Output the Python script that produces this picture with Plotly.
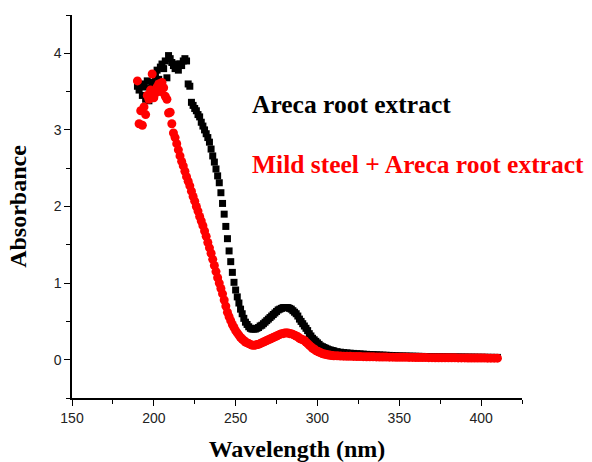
import plotly.graph_objects as go

# Wavelength (nm): 1 nm steps 190-310, 2 nm steps 312-410
wavelength = list(range(190, 311)) + list(range(312, 411, 2))

areca = [
    3.57, 3.52, 3.60, 3.45, 3.56, 3.40, 3.64, 3.38, 3.55, 3.62,   # 190-199
    3.48, 3.70, 3.78, 3.66, 3.82, 3.86, 3.80, 3.90, 3.68, 3.97,   # 200-209
    3.93, 3.88, 3.84, 3.80, 3.86, 3.78, 3.86, 3.84, 3.90, 3.93,   # 210-219
    3.90, 3.60, 3.57, 3.36, 3.32, 3.28, 3.25, 3.20, 3.17, 3.10,   # 220-229
    3.05, 3.00, 2.95, 2.90, 2.84, 2.75, 2.66, 2.58, 2.49, 2.40,   # 230-239
    2.31, 2.18, 2.04, 1.90, 1.74, 1.58, 1.42, 1.28, 1.14, 1.01,   # 240-249
    0.91, 0.82, 0.74, 0.66, 0.60, 0.54, 0.49, 0.46, 0.43, 0.41,   # 250-259
    0.40, 0.40, 0.40, 0.41, 0.42, 0.44, 0.45, 0.47, 0.49, 0.51,   # 260-269
    0.53, 0.55, 0.57, 0.59, 0.61, 0.63, 0.65, 0.66, 0.67, 0.68,   # 270-279
    0.68, 0.68, 0.68, 0.67, 0.66, 0.64, 0.62, 0.60, 0.57, 0.53,   # 280-289
    0.50, 0.47, 0.44, 0.41, 0.38, 0.34, 0.31, 0.28, 0.26, 0.24,   # 290-299
    0.22, 0.20, 0.18, 0.17, 0.16, 0.15, 0.14, 0.13, 0.125, 0.12,  # 300-309
    0.115,                                                        # 310
    0.105, 0.098, 0.093, 0.089, 0.085, 0.082, 0.079, 0.076, 0.073, 0.070,  # 312-330
    0.068, 0.066, 0.064, 0.062, 0.060, 0.058, 0.056, 0.054, 0.052, 0.050,  # 332-350
    0.049, 0.048, 0.047, 0.046, 0.045, 0.044, 0.043, 0.042, 0.041, 0.040,  # 352-370
    0.039, 0.039, 0.038, 0.038, 0.037, 0.037, 0.036, 0.036, 0.035, 0.035,  # 372-390
    0.034, 0.034, 0.033, 0.033, 0.032, 0.032, 0.031, 0.031, 0.030, 0.030,  # 392-410
]

mild_steel = [
    3.64, 3.08, 3.25, 3.06, 3.30, 3.20, 3.45, 3.40, 3.52, 3.73,   # 190-199
    3.42, 3.48, 3.56, 3.60, 3.50, 3.62, 3.55, 3.44, 3.40, 3.22,   # 200-209
    3.23, 3.08, 2.96, 2.90, 2.82, 2.74, 2.66, 2.59, 2.53, 2.46,   # 210-219
    2.39, 2.33, 2.27, 2.20, 2.13, 2.07, 2.00, 1.94, 1.87, 1.81,   # 220-229
    1.75, 1.68, 1.61, 1.53, 1.46, 1.39, 1.31, 1.23, 1.15, 1.07,   # 230-239
    1.00, 0.93, 0.86, 0.78, 0.70, 0.62, 0.56, 0.51, 0.46, 0.42,   # 240-249
    0.38, 0.35, 0.32, 0.29, 0.27, 0.25, 0.23, 0.22, 0.21, 0.20,   # 250-259
    0.19, 0.19, 0.19, 0.20, 0.20, 0.21, 0.22, 0.23, 0.24, 0.25,   # 260-269
    0.26, 0.27, 0.28, 0.29, 0.30, 0.31, 0.32, 0.33, 0.34, 0.34,   # 270-279
    0.35, 0.35, 0.35, 0.34, 0.34, 0.33, 0.32, 0.31, 0.30, 0.28,   # 280-289
    0.27, 0.26, 0.25, 0.23, 0.21, 0.19, 0.17, 0.15, 0.14, 0.12,   # 290-299
    0.11, 0.10, 0.09, 0.08, 0.075, 0.07, 0.065, 0.062, 0.058, 0.055,  # 300-309
    0.052,                                                        # 310
    0.050, 0.048, 0.046, 0.045, 0.044, 0.043, 0.042, 0.041, 0.040, 0.039,  # 312-330
    0.038, 0.037, 0.036, 0.035, 0.035, 0.034, 0.033, 0.033, 0.032, 0.032,  # 332-350
    0.031, 0.031, 0.030, 0.030, 0.029, 0.029, 0.028, 0.028, 0.027, 0.027,  # 352-370
    0.026, 0.026, 0.025, 0.025, 0.025, 0.024, 0.024, 0.023, 0.023, 0.023,  # 372-390
    0.022, 0.022, 0.022, 0.021, 0.021, 0.021, 0.020, 0.020, 0.020, 0.020,  # 392-410
]

x_ticks = [150, 200, 250, 300, 350, 400]
y_ticks = [0, 1, 2, 3, 4]

serif = "Liberation Serif, Times New Roman, serif"
sans = "Liberation Sans, Arial, sans-serif"

fig = go.Figure()
fig.add_trace(go.Scatter(
    x=wavelength, y=areca, mode="markers", name="Areca root extract",
    marker=dict(symbol="square", size=7, color="black", line=dict(width=0)),
))
fig.add_trace(go.Scatter(
    x=wavelength, y=mild_steel, mode="markers", name="Mild steel + Areca root extract",
    marker=dict(symbol="circle", size=9, color="#ff0000", line=dict(width=0)),
))

fig.add_annotation(
    text="<b>Areca root extract</b>", xref="x", yref="y", x=258.5, y=3.33,
    xanchor="left", yanchor="middle", showarrow=False,
    font=dict(family=serif, size=25.5, color="black"),
)
fig.add_annotation(
    text="<b>Mild steel + Areca root extract</b>", xref="x", yref="y", x=258.5, y=2.55,
    xanchor="left", yanchor="middle", showarrow=False,
    font=dict(family=serif, size=25.5, color="#ff0000"),
)

fig.update_layout(
    width=592, height=462,
    margin=dict(l=72, r=70, t=15, b=64),
    paper_bgcolor="white", plot_bgcolor="white",
    showlegend=False,
    xaxis=dict(
        range=[150, 425], tickvals=x_ticks, ticks="outside", ticklen=6, tickwidth=1.3,
        tickcolor="black", showline=True, linecolor="black", linewidth=1.5,
        showgrid=False, zeroline=False, automargin=False,
        minor=dict(dtick=25, tick0=150, ticks="outside", ticklen=4, tickwidth=1.3, tickcolor="black", showgrid=False),
        tickfont=dict(family=sans, size=14, color="#222"),
        title=dict(text="<b>Wavelength (nm)</b>", font=dict(family=serif, size=24, color="black"), standoff=16),
    ),
    yaxis=dict(
        range=[-0.5, 4.5], tickvals=y_ticks, ticks="outside", ticklen=6, tickwidth=1.3,
        tickcolor="black", showline=True, linecolor="black", linewidth=1.5,
        showgrid=False, zeroline=False, automargin=False,
        minor=dict(dtick=0.5, tick0=0, ticks="outside", ticklen=4, tickwidth=1.3, tickcolor="black", showgrid=False),
        tickfont=dict(family=sans, size=14, color="#222"),
        title=dict(text="<b>Absorbance</b>", font=dict(family=serif, size=24, color="black"), standoff=20),
    ),
)

fig.write_html("out.html", config={"displayModeBar": False},
               post_script="document.body.style.margin='0px';")
